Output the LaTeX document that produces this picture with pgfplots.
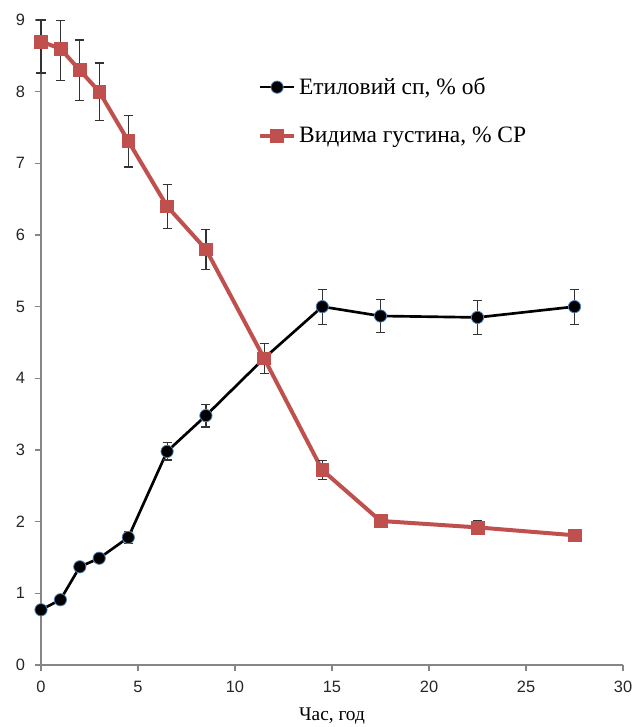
\documentclass[border=0pt]{standalone}
\usepackage{fontspec}
\setmainfont{Liberation Serif}
\setsansfont{Liberation Sans}
\usepackage{pgfplots}
\usepackage{pgfplotstable}
\pgfplotsset{compat=1.18}
\definecolor{redS}{HTML}{C0504D}
\definecolor{blueE}{HTML}{4F81BD}
\definecolor{axgray}{HTML}{868686}
\pgfplotstableread{
x y ep em
0 0.77 0.03 0.03
1 0.91 0.04 0.04
2 1.37 0.06 0.06
3 1.49 0.06 0.06
4.5 1.78 0.08 0.08
6.5 2.98 0.12 0.12
8.5 3.48 0.16 0.16
11.5 4.28 0.21 0.21
14.5 5.00 0.245 0.245
17.5 4.87 0.235 0.235
22.5 4.85 0.235 0.235
27.5 5.00 0.245 0.245
}\ethanol
\pgfplotstableread{
x y ep em
0 8.70 0.30 0.44
1 8.60 0.39 0.44
2 8.30 0.42 0.42
3 8.00 0.40 0.40
4.5 7.31 0.36 0.36
6.5 6.40 0.31 0.31
8.5 5.80 0.28 0.28
11.5 4.28 0.21 0.21
14.5 2.72 0.13 0.13
17.5 2.01 0.07 0.07
22.5 1.92 0.10 0.10
27.5 1.81 0.07 0.07
}\density
\begin{document}
\begin{tikzpicture}
\path[use as bounding box] (-30.75pt,-46.5pt) rectangle (444.75pt,498.75pt);
\begin{axis}[
  at={(0,0)}, anchor=south west,
  scale only axis, width=436.5pt, height=483.75pt,
  xmin=0, xmax=30, ymin=0, ymax=9,
  xtick={0,5,...,30}, ytick={0,1,...,9},
  axis x line=bottom, axis y line=left,
  axis line style={-, draw=axgray, line width=0.8pt},
  tick style={draw=axgray, line width=0.8pt},
  tick align=outside, major tick length=4.5pt,
  clip=false,
  /pgf/number format/assume math mode=true,
  ticklabel style={font=\sffamily\fontsize{12.3}{14}\selectfont, text=black!85},
  yticklabel style={xshift=-4pt},
  xticklabel style={yshift=-4pt},
  xlabel={Час, год},
  xlabel style={at={(axis description cs:0.5,0)}, anchor=base, yshift=-41.8pt, font=\fontsize{14.5}{16}\selectfont},
  legend style={draw=none, fill=none, at={(axis description cs:0.372,0.915)}, anchor=north west,
    font=\fontsize{17.6}{21}\selectfont, row sep=19pt, inner sep=0pt},
  legend cell align=left,
  legend image code/.code={\draw[mark repeat=2,mark phase=2] plot coordinates {(0pt,0pt) (13pt,0pt) (26pt,0pt)};},
]
\addplot[black, line width=2pt, mark=*, mark size=4.6pt,
  mark options={fill=black, draw=blueE, line width=0.6pt},
  error bars/.cd, y dir=both, y explicit,
  error bar style={black!80, line width=0.9pt},
  error mark options={rotate=90, mark size=3.4pt, black!80, line width=0.9pt}]
  table[x=x, y=y, y error plus=ep, y error minus=em]{\ethanol};
\addlegendentry{Етиловий сп, \% об}
\addplot[redS, line width=3pt, mark=square*, mark size=4.8pt,
  mark options={fill=redS, draw=redS, line width=0.4pt},
  error bars/.cd, y dir=both, y explicit,
  error bar style={black!80, line width=0.9pt},
  error mark options={rotate=90, mark size=3.4pt, black!80, line width=0.9pt}]
  table[x=x, y=y, y error plus=ep, y error minus=em]{\density};
\addlegendentry{Видима густина, \% СР}
\end{axis}
\end{tikzpicture}
\end{document}
